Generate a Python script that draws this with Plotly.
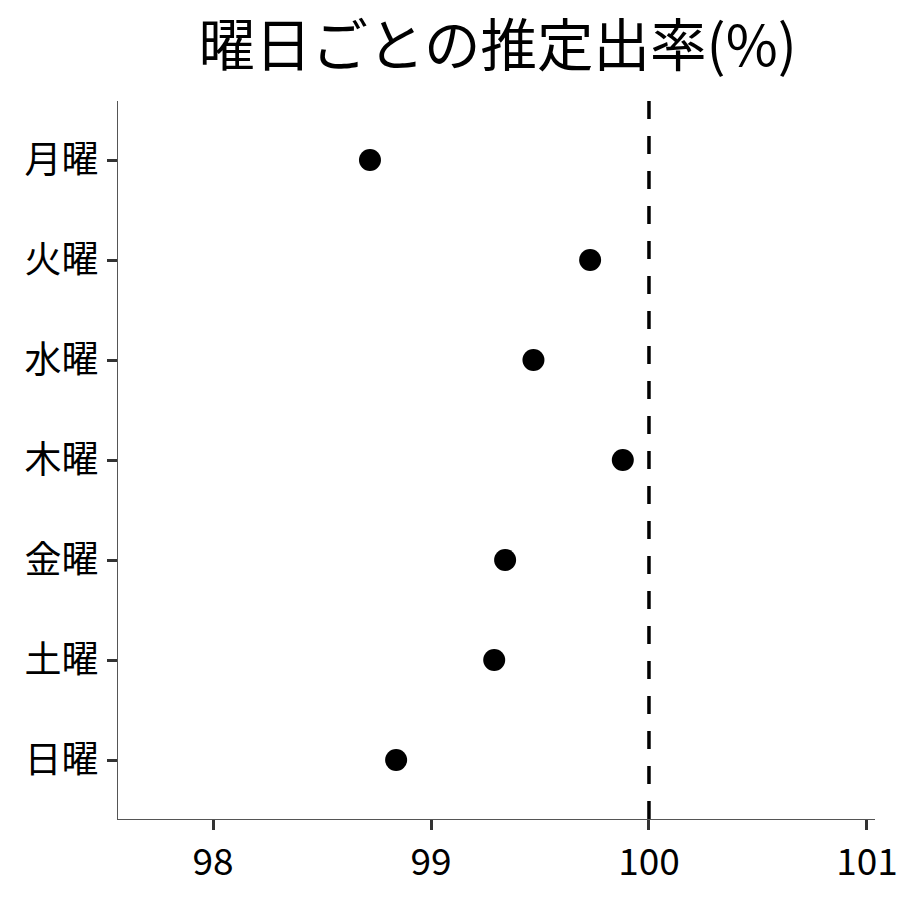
import plotly.graph_objects as go

days = ["月曜", "火曜", "水曜", "木曜", "金曜", "土曜", "日曜"]
rates = [98.72, 99.73, 99.47, 99.88, 99.34, 99.29, 98.84]
x_ticks = [98, 99, 100, 101]
ref_value = 100

FONT = "Noto Sans CJK JP"

fig = go.Figure()
fig.add_trace(go.Scatter(
    x=rates, y=days, mode="markers",
    marker=dict(size=22, color="black"),
    showlegend=False, hoverinfo="x+y",
))

fig.add_shape(type="line", xref="x", yref="paper",
              x0=ref_value, x1=ref_value, y0=0, y1=1,
              line=dict(color="black", width=3.5, dash="18px,17px"))

fig.update_layout(
    width=900, height=900,
    paper_bgcolor="white", plot_bgcolor="white",
    margin=dict(l=118, r=25, t=101, b=81, autoexpand=False),
    font=dict(family=FONT, color="black"),
    title=dict(text="曜日ごとの推定出率(%)", x=0.553, xanchor="center",
               y=0.949, yanchor="middle", automargin=False,
               font=dict(family=FONT, size=56.5, color="black")),
    xaxis=dict(range=[97.564, 101.037], tickvals=x_ticks,
               ticktext=[str(v) for v in x_ticks],
               showgrid=False, zeroline=False, automargin=False,
               showline=True, linecolor="#555", linewidth=1.2,
               ticks="outside", ticklen=10, tickwidth=2.5, tickcolor="#333",
               ticklabelstandoff=0,
               tickfont=dict(family=FONT, size=37, color="black")),
    yaxis=dict(categoryorder="array", categoryarray=days,
               range=[6.59, -0.59], autorange=False,
               showgrid=False, zeroline=False, automargin=False,
               showline=True, linecolor="#555", linewidth=1.2,
               ticks="outside", ticklen=10, tickwidth=2.5, tickcolor="#333",
               ticklabelstandoff=1,
               tickfont=dict(family=FONT, size=37, color="black")),
)

fig.write_html("out.html", config={"displayModeBar": False},
               post_script="document.body.style.margin='0';")
